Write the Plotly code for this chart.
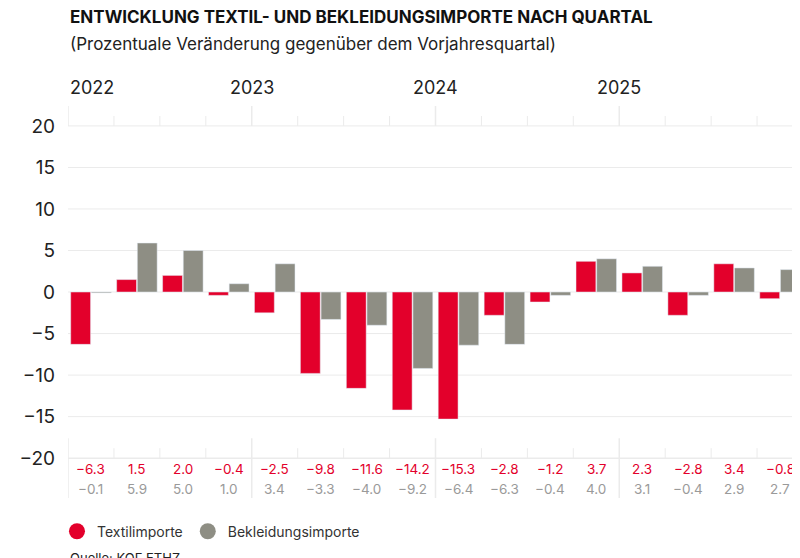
import plotly.graph_objects as go

quarters = [f"{y}Q{q}" for y in (2022, 2023, 2024, 2025) for q in (1, 2, 3, 4)]
years = ["2022", "2023", "2024", "2025"]
textil = [-6.3, 1.5, 2.0, -0.4, -2.5, -9.8, -11.6, -14.2, -15.3, -2.8, -1.2, 3.7, 2.3, -2.8, 3.4, -0.8]
bekleidung = [-0.1, 5.9, 5.0, 1.0, 3.4, -3.3, -4.0, -9.2, -6.4, -6.3, -0.4, 4.0, 3.1, -0.4, 2.9, 2.7]
yticks = [20, 15, 10, 5, 0, -5, -10, -15, -20]

RED = "#e3002b"
GREY = "#8e8e84"
LINE = "#ebebeb"
FONT = "Inter"

xs = [i + 0.5 for i in range(len(quarters))]
fig = go.Figure()
fig.add_bar(x=xs, y=textil, marker_color=RED, showlegend=False)
fig.add_bar(x=xs, y=bekleidung, marker_color=GREY, showlegend=False)
fig.add_scatter(x=[None], y=[None], mode="markers", name="Textilimporte",
                marker=dict(color=RED, size=17, symbol="circle"))
fig.add_scatter(x=[None], y=[None], mode="markers", name="Bekleidungsimporte",
                marker=dict(color=GREY, size=17, symbol="circle"))

shapes = []
for v in yticks[:-1]:
    shapes.append(dict(type="line", xref="x", yref="y", x0=0, x1=16, y0=v, y1=v,
                       line=dict(color=LINE, width=1), layer="below"))
shapes.append(dict(type="line", xref="x", yref="y", x0=0, x1=16, y0=-20, y1=-20,
                   line=dict(color=LINE, width=1.5), layer="below"))
n = len(quarters)
for i in range(n + 1):
    if i % 4 == 0:
        shapes.append(dict(type="line", xref="x", yref="y", x0=i, x1=i, y0=20, y1=22.4,
                           line=dict(color=LINE, width=1.5), layer="below"))
        shapes.append(dict(type="line", xref="x", yref="y", x0=i, x1=i, y0=-17.6, y1=-24.8,
                           line=dict(color=LINE, width=1.5), layer="below"))
    else:
        shapes.append(dict(type="line", xref="x", yref="y", x0=i, x1=i, y0=20, y1=21.2,
                           line=dict(color=LINE, width=1), layer="below"))
        shapes.append(dict(type="line", xref="x", yref="y", x0=i, x1=i, y0=-18.8, y1=-20,
                           line=dict(color=LINE, width=1), layer="below"))

ann = []
for i, (t, b) in enumerate(zip(textil, bekleidung)):
    ann.append(dict(x=i + 0.5, y=-21.3, xref="x", yref="y", text=f"{t:.1f}".replace("-", "−"),
                    showarrow=False, font=dict(family=FONT, size=13.5, color=RED)))
    ann.append(dict(x=i + 0.5, y=-23.7, xref="x", yref="y", text=f"{b:.1f}".replace("-", "−"),
                    showarrow=False, font=dict(family=FONT, size=13.5, color="#9a9a9a")))
for k, y in enumerate(years):
    ann.append(dict(x=k * 4, y=1.046, xref="x", yref="paper", text=y,
                    showarrow=False, xanchor="left" if k == 0 else "center", yanchor="middle",
                    font=dict(family=FONT, size=18, color="#222")))

fig.update_layout(
    width=800, height=558, margin=dict(l=60, r=5, t=98, b=68),
    plot_bgcolor="white", paper_bgcolor="white",
    barmode="group", bargap=0.1, bargroupgap=0.04,
    font=dict(family=FONT, color="#222"),
    xaxis=dict(range=[0, 16], showgrid=False, zeroline=False, showticklabels=False,
               automargin=False),
    yaxis=dict(range=[-24.8, 22.4], tickvals=yticks,
               ticktext=[str(v).replace("-", "−") for v in yticks],
               tickfont=dict(size=19, color="#222"), showgrid=False, zeroline=False, ticks="",
               automargin=False, ticklabelstandoff=12),
    shapes=shapes, annotations=ann,
    legend=dict(orientation="h", x=-0.015, y=-0.045, xanchor="left", yanchor="top",
                font=dict(family=FONT, size=14, color="#333")),
)
fig.add_annotation(x=0, y=1.196, xref="paper", yref="paper", xanchor="left", yanchor="bottom",
                   text="<b>ENTWICKLUNG TEXTIL- UND BEKLEIDUNGSIMPORTE NACH QUARTAL</b>",
                   showarrow=False, font=dict(family=FONT, size=17, color="#111"))
fig.add_annotation(x=0, y=1.19, xref="paper", yref="paper", xanchor="left", yanchor="top",
                   text="(Prozentuale Veränderung gegenüber dem Vorjahresquartal)",
                   showarrow=False, font=dict(family=FONT, size=17, color="#222"))
fig.add_annotation(x=0, y=-0.128, xref="paper", yref="paper", xanchor="left", yanchor="top",
                   text="Quelle: KOF ETHZ", showarrow=False,
                   font=dict(family=FONT, size=13, color="#222"))
fig.write_html("out.html")
